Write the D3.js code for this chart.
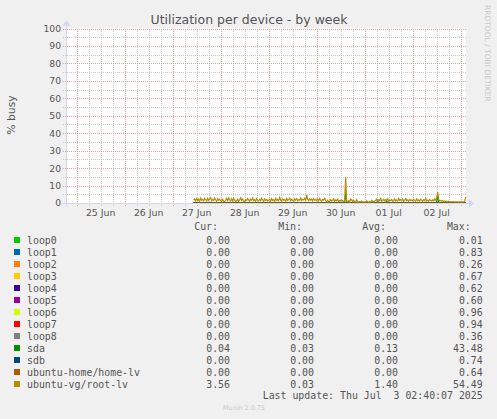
<!DOCTYPE html>
<html>
<head>
<meta charset="utf-8">
<script src="https://cdn.jsdelivr.net/npm/d3@7"></script>
<style>
  body { margin: 0; background: #f0f0f0; }
  text { font-family: "DejaVu Sans", sans-serif; }
  .mono { font-family: "DejaVu Sans Mono", monospace; white-space: pre; }
</style>
</head>
<body>
<svg id="chart" width="497" height="419"></svg>
<script>
"use strict";

const chartTitle = "Utilization per device - by week";
const yLabel = "% busy";
const windowStart = new Date(2025, 5, 24, 18, 40);
const windowEnd = new Date(2025, 6, 3, 2, 40);
const dataStart = new Date(2025, 5, 27, 10, 30);
const dataEnd = new Date(2025, 6, 3, 2, 30);
const stepMinutes = 30;
const yTicks = [0, 10, 20, 30, 40, 50, 60, 70, 80, 90, 100];
const dayLabels = ["25 Jun", "26 Jun", "27 Jun", "28 Jun", "29 Jun", "30 Jun", "01 Jul", "02 Jul"];

const devices = ["loop0", "loop1", "loop2", "loop3", "loop4", "loop5", "loop6", "loop7", "loop8",
  "sda", "sdb", "ubuntu-home/home-lv", "ubuntu-vg/root-lv"];
const colors = ["#00cc00", "#0066b3", "#ff8000", "#ffcc00", "#330099", "#990099", "#ccff00", "#ff0000",
  "#808080", "#008f00", "#00487d", "#b35a00", "#b38f00"];
const curValues = [0.00, 0.00, 0.00, 0.00, 0.00, 0.00, 0.00, 0.00, 0.00, 0.04, 0.00, 0.00, 3.56];
const minValues = [0.00, 0.00, 0.00, 0.00, 0.00, 0.00, 0.00, 0.00, 0.00, 0.03, 0.00, 0.00, 0.03];
const avgValues = [0.00, 0.00, 0.00, 0.00, 0.00, 0.00, 0.00, 0.00, 0.00, 0.13, 0.00, 0.00, 1.40];
const maxValues = [0.01, 0.83, 0.26, 0.67, 0.62, 0.60, 0.96, 0.94, 0.36, 43.48, 0.74, 0.64, 54.49];
const lastUpdate = "Last update: Thu Jul  3 02:40:07 2025";

// idle devices: flat at zero over the whole data period
const idleValues = [0, 0];

// 30 minute averages, starting 27 Jun 10:30
const sdaValues = [
  0.1,0.1,0.1,0.1,0.1,0.1,0.1,0.1,0.1,0.1,0.1,0.1,0.1,0.1,0.1,0.1,0.1,0.1,0.1,0.1,0.1,0.1,0.1,0.1,0.1,0.1,0.1,
  0.1,0.1,0.1,0.1,0.1,0.1,0.1,0.1,0.1,0.1,0.1,0.1,0.1,0.1,0.1,0.1,0.1,0.1,0.1,0.1,0.1,0.1,0.1,0.1,0.1,0.1,0.1,0.1,
  0.1,0.1,0.1,0.1,0.1,0.1,0.1,0.1,0.1,0.1,0.1,0.1,0.1,0.1,0.1,0.1,0.1,0.1,0.1,0.1,
  0.1,0.1,0.1,0.1,0.1,0.1,0.1,0.1,0.1,0.1,0.1,0.1,0.1,0.1,0.1,0.1,0.1,0.1,0.1,0.1,0.1,0.1,0.1,0.1,
  0.1,0.1,0.1,0.1,0.1,0.1,0.1,0.1,0.1,0.1,0.1,0.1,0.1,0.1,0.2,0.1,0.1,0.1,0.1,0.1,0.1,0.1,0.1,0.1,
  0.1,0.1,0.1,0.1,0.1,0.1,0.1,0.1,0.1,0.1,0.1,0.1,0.1,0.1,0.1,0.1,0.1,0.1,0.1,0.1,0.1,0.1,0.1,0.1,
  0.1,0.1,0.1,0.1,0.3,6.0,0.4,0.1,0.1,0.1,0.1,0.1,0.1,0.1,0.1,0.1,0.1,0.1,0.1,0.1,0.1,0.1,0.1,0.1,
  0.1,0.1,0.1,0.1,0.1,0.1,0.1,0.1,0.1,0.1,0.1,0.1,0.3,1.0,0.2,0.1,0.1,0.1,0.1,0.1,0.1,0.1,1.2,0.3,
  0.1,0.1,0.1,0.1,0.1,0.1,0.1,0.1,0.1,0.1,0.1,0.1,0.1,0.1,0.1,0.1,0.1,0.1,0.1,0.1,0.1,0.1,0.1,0.1,
  0.1,0.1,0.1,0.1,0.1,0.1,0.1,0.1,0.1,0.1,0.1,0.1,0.1,0.1,0.1,0.1,0.1,0.1,0.1,0.1,0.1,0.1,0.1,0.1,
  0.8,4.5,0.3,0.1,0.1,0.1,0.1,0.1,0.1,0.1,0.1,0.1,0.1,0.1,0.1,0.1,0.1,0.1,0.1,0.1,0.1,0.1,0.1,0.1,
  0.1,0.1,0.1,0.1,0.1,0.04
];
const rootLvValues = [
  1.8,2.4,1.2,2.6,1.5,2.2,1.0,2.8,1.6,2.1,1.3,2.5,1.9,1.1,2.7,1.4,2.3,3.1,1.2,2.0,1.5,2.9,1.7,1.0,2.4,1.6,2.2,
  1.3,0.8,2.1,1.0,0.9,1.5,2.6,1.4,2.9,1.8,1.2,2.4,1.1,2.7,1.6,0.9,1.4,2.2,1.0,1.8,3.0,1.5,2.3,1.2,
  0.9,2.0,1.4,2.6,1.7,1.1,2.2,1.5,2.8,1.3,1.9,1.0,2.5,1.6,1.2,2.1,1.4,2.7,1.8,1.0,2.3,1.5,2.0,1.2,
  1.6,2.2,1.1,2.5,1.4,1.9,1.0,2.7,1.5,2.1,1.3,3.2,1.7,1.2,2.4,1.6,2.0,1.1,2.6,1.4,1.9,2.8,1.3,2.2,
  1.5,1.0,2.3,1.7,2.5,1.2,2.0,1.6,2.9,1.4,2.1,1.8,2.6,1.5,4.6,2.0,1.3,2.4,1.7,2.2,1.1,2.5,1.6,2.0,
  1.4,2.3,1.2,2.6,1.5,1.0,2.1,1.7,2.8,1.3,0.9,1.6,0.7,1.2,2.0,1.1,1.5,2.4,1.0,1.8,1.3,2.2,0.8,1.5,
  1.1,1.9,1.2,0.9,1.4,15.0,1.0,0.7,1.3,0.6,2.3,1.8,0.8,1.6,0.5,0.7,1.9,0.6,0.5,0.8,0.6,1.1,0.5,0.7,
  0.6,0.5,1.2,0.7,0.5,0.9,0.6,1.5,0.7,0.6,1.0,1.4,2.2,1.1,1.8,1.3,2.6,1.0,1.6,2.1,1.2,1.9,1.4,2.4,
  1.1,1.7,1.3,2.0,1.0,1.5,2.3,1.2,1.8,1.1,2.7,1.4,1.9,1.6,2.2,1.0,1.5,2.5,1.3,1.8,1.1,2.0,1.4,1.7,
  1.2,2.1,1.5,1.0,2.4,1.3,1.8,1.1,2.2,1.6,1.0,1.9,1.3,2.6,1.2,1.7,1.0,2.0,1.4,1.1,1.8,1.2,2.3,1.5,
  2.8,6.3,1.9,1.1,1.4,1.0,1.3,0.9,1.2,0.8,1.1,0.7,1.0,0.6,0.8,0.7,0.6,0.9,0.5,0.7,0.6,0.8,0.5,0.6,
  0.6,0.5,0.7,0.6,0.8,3.56
];

function seriesFor(name) {
  let vals = idleValues;
  if (name == "sda") vals = sdaValues;
  if (name == "ubuntu-vg/root-lv") vals = rootLvValues;
  if (vals.length == 2) return [{t: dataStart, v: vals[0]}, {t: dataEnd, v: vals[1]}];
  return vals.map((v, i) => ({t: new Date(dataStart.getTime() + i * stepMinutes * 60000), v: v}));
}

const svg = d3.select("#chart");
svg.append("rect").attr("width", 497).attr("height", 419).attr("fill", "#f0f0f0");

const plotLeft = 66, plotRight = 466, plotTop = 28.5, plotBottom = 203;
const x = d3.scaleTime().domain([windowStart, windowEnd]).range([plotLeft, plotRight]);
const y = d3.scaleLinear().domain([0, 100]).range([plotBottom, plotTop]);

svg.append("rect").attr("x", plotLeft).attr("y", plotTop).attr("width", plotRight - plotLeft)
  .attr("height", plotBottom - plotTop).attr("fill", "#ffffff");

// dotted grid lines built from 1px squares so every dot lands on a whole pixel
function hDots(yy) {
  const r = Math.round(yy);
  let d = "";
  for (let xx = plotLeft - 3; xx < plotRight; xx += 2) d += `M${xx},${r}h1v1h-1z`;
  return d;
}
function vDots(xx) {
  const c = Math.round(xx);
  let d = "";
  for (let yy = Math.round(plotTop); yy < plotBottom + 3; yy += 2) d += `M${c},${yy}h1v1h-1z`;
  return d;
}
let minorPath = "", majorPath = "";
d3.range(5, 100, 10).forEach(v => { minorPath += hDots(y(v)); });
d3.timeHour.every(6).range(windowStart, windowEnd).forEach(function(t) {
  if (t.getHours() != 0) minorPath += vDots(x(t));
});
yTicks.forEach(v => { majorPath += hDots(y(v)); });
d3.timeDay.range(windowStart, windowEnd).forEach(t => { majorPath += vDots(x(t)); });
svg.append("path").attr("d", minorPath).attr("fill", "#c8c8c8").attr("shape-rendering", "crispEdges");
svg.append("path").attr("d", majorPath).attr("fill", "#f09c9c").attr("shape-rendering", "crispEdges");

// tick labels
svg.append("g").selectAll("text").data(yTicks).enter().append("text")
  .attr("x", 61).attr("y", d => y(d) + 3.4).attr("text-anchor", "end")
  .attr("font-size", "9.2px").attr("fill", "#555").text(d => d);

const noons = d3.timeDay.range(windowStart, windowEnd).map(d => d3.timeHour.offset(d, 12));
svg.append("g").selectAll("text").data(noons).enter().append("text")
  .attr("x", d => x(d)).attr("y", 215.5).attr("text-anchor", "middle")
  .attr("font-size", "9.4px").attr("fill", "#555").text((d, i) => dayLabels[i]);

// series lines, drawn in legend order
const line = d3.line().x(d => x(d.t)).y(d => y(d.v));
devices.forEach(function(name, k) {
  svg.append("path").datum(seriesFor(name)).attr("d", line)
    .attr("fill", "none").attr("stroke", colors[k]).attr("stroke-width", 1.2);
});

// axes with arrows
const axisColor = "#cfd6f8";
const px = v => Math.round(v) + 0.5;
svg.append("line").attr("x1", plotLeft - 3).attr("x2", plotRight + 4).attr("y1", px(plotBottom)).attr("y2", px(plotBottom)).attr("stroke", axisColor);
svg.append("line").attr("x1", px(plotLeft)).attr("x2", px(plotLeft)).attr("y1", plotBottom + 3).attr("y2", plotTop - 4).attr("stroke", axisColor);
svg.append("path").attr("d", `M${plotRight + 3},${plotBottom - 3.5} L${plotRight + 8},${plotBottom + 0.5} L${plotRight + 3},${plotBottom + 4.5} Z`).attr("fill", axisColor);
svg.append("path").attr("d", `M${plotLeft - 3.5},${plotTop - 3} L${plotLeft + 0.5},${plotTop - 8} L${plotLeft + 4.5},${plotTop - 3} Z`).attr("fill", axisColor);

// titles
svg.append("text").attr("x", 249).attr("y", 24).attr("text-anchor", "middle")
  .attr("font-size", "12.5px").attr("fill", "#555").text(chartTitle);
svg.append("text").attr("transform", "translate(15,115) rotate(-90)").attr("text-anchor", "middle")
  .attr("font-size", "10.8px").attr("fill", "#555").text(yLabel);
svg.append("text").attr("transform", "translate(485,5) rotate(90)")
  .attr("font-size", "7.5px").attr("fill", "#c8c8c8").text("RRDTOOL / TOBI OETIKER");
svg.append("text").attr("x", 244).attr("y", 410).attr("text-anchor", "middle")
  .attr("font-size", "6.4px").attr("fill", "#c8c8c8").text("Munin 2.0.75");

// legend
const legend = svg.append("g").attr("font-size", "9.9px").attr("fill", "#555");
const colRight = [230, 314, 398, 482.7];
const headers = ["Cur:", "Min:", "Avg:", "Max:"];
headers.forEach(function(h, c) {
  legend.append("text").attr("class", "mono").attr("x", colRight[c] - 12).attr("y", 230)
    .attr("text-anchor", "end").text(h);
});
devices.forEach(function(name, k) {
  const yy = 240 + k * 12;
  legend.append("rect").attr("x", 14).attr("y", yy - 3).attr("width", 6).attr("height", 6).attr("fill", colors[k]);
  legend.append("text").attr("class", "mono").attr("x", 27).attr("y", yy + 3.5).text(name);
  [curValues[k], minValues[k], avgValues[k], maxValues[k]].forEach(function(v, c) {
    legend.append("text").attr("class", "mono").attr("x", colRight[c]).attr("y", yy + 3.5)
      .attr("text-anchor", "end").text(v.toFixed(2));
  });
});
legend.append("text").attr("class", "mono").attr("x", 482.7).attr("y", 399)
  .attr("text-anchor", "end").text(lastUpdate);
</script>
</body>
</html>
